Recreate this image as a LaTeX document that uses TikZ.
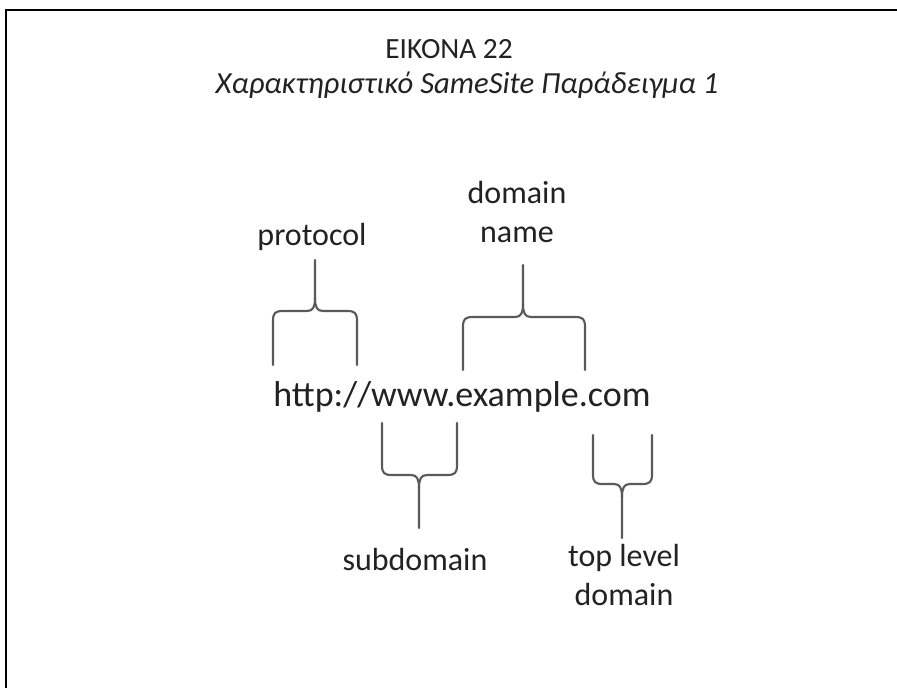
\documentclass[tikz,border=0pt]{standalone}
\usepackage{fontspec}
\setmainfont{Carlito}
\definecolor{txt}{HTML}{222222}
\definecolor{brk}{HTML}{5A5A5A}
% #1 left x, #2 right x, #3 centre x, #4 leg end y, #5 bar y, #6 stem end y, #7 direction (1: legs below bar, -1: legs above)
\newcommand\mybracket[7]{%
  \draw[brace] (#1,#4) -- (#1,{#5+10*#7}) .. controls (#1,{#5+2*#7}) and ({#1+2},#5) .. ({#1+10},#5)
     -- ({#3-8},#5) .. controls ({#3-2},#5) and (#3,{#5-4*#7}) .. (#3,{#5-13*#7}) -- (#3,#6);
  \draw[brace] (#2,#4) -- (#2,{#5+10*#7}) .. controls (#2,{#5+2*#7}) and ({#2-2},#5) .. ({#2-10},#5)
     -- ({#3+8},#5) .. controls ({#3+2},#5) and (#3,{#5-4*#7}) .. (#3,{#5-13*#7});
}
\begin{document}
\begin{tikzpicture}[x=0.75pt,y=-0.75pt,
  lbl/.style={text=txt,inner sep=0pt,anchor=base,align=center,font=\fontsize{24}{29.25}\selectfont},
  ttl/.style={text=txt,inner sep=0pt,anchor=base,font=\fontsize{22}{26}\selectfont},
  url/.style={text=txt,inner sep=0pt,anchor=base,font=\fontsize{27}{30}\selectfont},
  brace/.style={draw=brk,line width=1.6pt,line join=round,line cap=round},
  frame/.style={draw=black,line width=2.2pt}]
\useasboundingbox (0,0) rectangle (897,687);
\fill[white] (0,0) rectangle (897,687);
\draw[frame] (6,700) -- (6,10) -- (905,10);

\node[ttl] (t1) at (449,58) {ΕΙΚΟΝΑ 22};
\node[ttl,font=\fontsize{23}{26}\selectfont\itshape] (t2) at (467,93) {Χαρακτηριστικό SameSite Παράδειγμα 1};

\node[url] (u) at (462,406) {http://www.example.com};

\node[lbl] (proto) at (312,245) {protocol};
\node[lbl] (dom) at (517,242) {domain\\name};
\node[lbl] (sub) at (415,570) {subdomain};
\node[lbl] (tld) at (624,605) {top level\\domain};

\mybracket{273}{357}{315}{365}{311}{260}{1}
\mybracket{463}{585}{523}{370}{317}{265}{1}
\mybracket{382}{457}{419}{423}{475}{528}{-1}
\mybracket{593}{652}{622}{435}{484}{538}{-1}
\end{tikzpicture}
\end{document}
